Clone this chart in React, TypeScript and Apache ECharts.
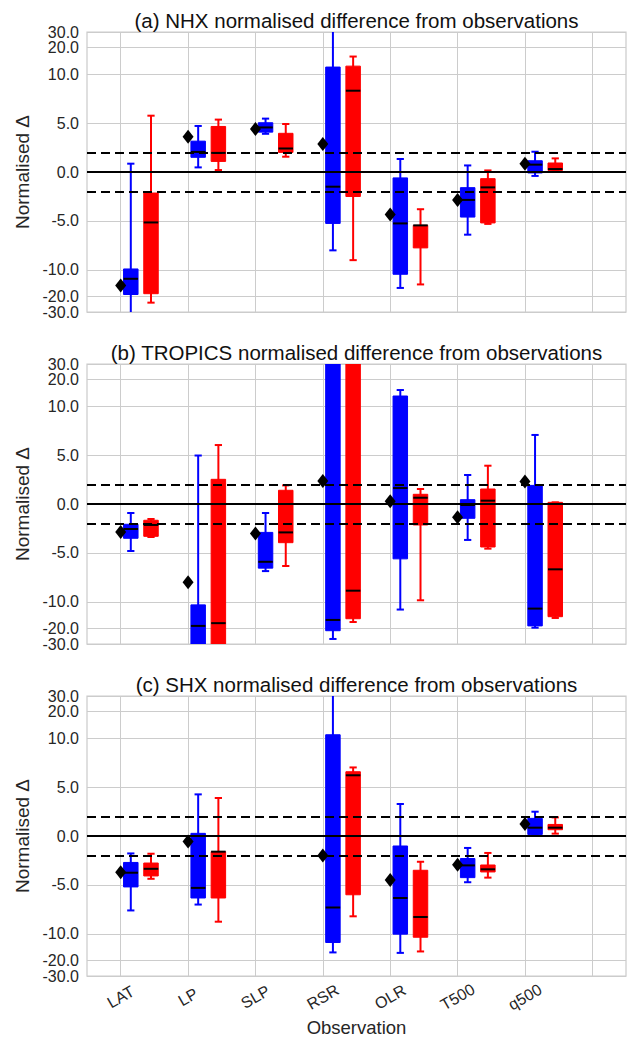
import React, { useEffect, useRef } from 'react';
import * as echarts from 'echarts';

const CATEGORIES = ['LAT', 'LP', 'SLP', 'RSR', 'OLR', 'T500', 'q500'];
const X_GRID = [0, 1, 2, 3, 4, 5, 6, 7];
const Y_TICKS = [-30, -20, -10, -5, 0, 5, 10, 20, 30];
const REF_LINES = [0, 2, -2];

// each box: [min, q1, median, q3, max]
const NHX_OBS = [-15, 3.6, 4.4, 2.85, -4.35, -2.85, 0.85];
const NHX_BLUE = [
  [-35, -19, -12.6, -9.9, 0.85],
  [0.47, 1.5, 2.05, 3.15, 4.7],
  [3.9, 4.07, 4.55, 5.03, 5.45],
  [-8.0, -5.25, -1.5, 12.0, 35],
  [-16, -11.2, -5.25, -0.6, 1.33],
  [-6.4, -4.6, -2.85, -1.6, 0.67],
  [-0.4, -0.1, 0.75, 1.15, 2.07],
];
const NHX_RED = [
  [-23.5, -18.6, -5.15, -2.15, 5.75],
  [0.2, 1.08, 1.95, 4.65, 5.35],
  [1.56, 2.0, 2.4, 3.95, 4.9],
  [-9.0, -2.5, 8.3, 12.3, 15.8],
  [-14.6, -7.75, -5.45, -5.45, -3.8],
  [-5.3, -5.2, -1.57, -0.68, 0.16],
  [0.16, 0.16, 0.3, 0.92, 1.39],
];

const TROP_OBS = [-2.85, -8.0, -3.0, 2.35, 0.27, -1.35, 2.3];
const TROP_BLUE = [
  [-4.8, -3.5, -2.55, -2.07, -0.92],
  [-40, -35, -18.7, -10.8, 4.95],
  [-6.85, -6.55, -5.9, -2.9, -0.92],
  [-26.3, -21.2, -16, 40, 50],
  [-12.2, -5.6, 1.63, 13, 15.2],
  [-3.67, -1.46, -0.1, 0.44, 2.96],
  [-19.6, -18.7, -11.9, 1.9, 7.05],
];
const TROP_RED = [
  [-3.37, -3.3, -2.14, -1.66, -1.53],
  [-40, -35, -17.4, 2.52, 6.02],
  [-6.33, -3.95, -2.9, 1.4, 1.9],
  [-16.9, -15.5, -8.85, 40, 50],
  [-9.83, -2.14, 0.64, 0.99, 1.53],
  [-4.56, -4.39, 0.34, 1.53, 3.91],
  [-15.2, -14.7, -6.67, 0.17, 0.17],
];

const SHX_OBS = [-3.7, -0.55, null, -2.0, -4.5, -2.93, 1.22];
const SHX_BLUE = [
  [-7.6, -5.2, -3.75, -2.7, -1.78],
  [-7.0, -6.33, -5.3, 0.27, 4.25],
  null,
  [-16.2, -12.5, -7.3, 10.9, 35],
  [-16.4, -10.05, -6.33, -1.02, 3.27],
  [-4.72, -4.25, -3.0, -2.3, -1.22],
  [0.1, 0.16, 0.85, 1.8, 2.48],
];
const SHX_RED = [
  [-4.37, -4.08, -3.35, -2.76, -1.81],
  [-8.75, -6.33, -1.6, -1.6, 3.88],
  null,
  [-8.2, -6.0, 6.2, 6.56, 7.0],
  [-15.8, -10.9, -8.27, -3.5, -2.63],
  [-4.25, -3.67, -3.4, -2.96, -1.73],
  [0.24, 0.64, 0.85, 1.18, 1.9],
];

const PANELS = [
  { title: '(a) NHX normalised difference from observations', obs: NHX_OBS, blue: NHX_BLUE, red: NHX_RED },
  { title: '(b) TROPICS normalised difference from observations', obs: TROP_OBS, blue: TROP_BLUE, red: TROP_RED },
  { title: '(c) SHX normalised difference from observations', obs: SHX_OBS, blue: SHX_BLUE, red: SHX_RED },
];

// symlog transform (linthresh 10, base 10, linscale 1) like matplotlib
const LINTHRESH = 10;
const LINSCALE_ADJ = 1 / (1 - 1 / 10);
function fwd(v: number): number {
  const a = Math.abs(v);
  const s = v < 0 ? -1 : 1;
  if (a <= LINTHRESH) return (v / LINTHRESH) * LINSCALE_ADJ;
  return s * (LINSCALE_ADJ + Math.log10(a / LINTHRESH));
}
function inv(t: number): number {
  const a = Math.abs(t);
  const s = t < 0 ? -1 : 1;
  if (a <= LINSCALE_ADJ) return (t / LINSCALE_ADJ) * LINTHRESH;
  return s * LINTHRESH * Math.pow(10, a - LINSCALE_ADJ);
}

const FONT = "'Liberation Sans', Arial, sans-serif";
const TEXT = '#262626';
const GRID_COLOR = '#cccccc';
const TOPS = [32, 364, 696];
const GRID_LEFT = 87;
const GRID_W = 539;
const GRID_H = 280;
const BOX_W = 0.215;
const BLUE_OFF = 0.15;
const RED_OFF = 0.45;

function boxRender(color: string) {
  return (params: any, api: any) => {
    const x = api.value(0);
    const lo = api.coord([x, api.value(1)]);
    const q1 = api.coord([x, api.value(2)]);
    const md = api.coord([x, api.value(3)]);
    const q3 = api.coord([x, api.value(4)]);
    const hi = api.coord([x, api.value(5)]);
    const w = api.size([BOX_W, 0])[0];
    const cx = lo[0];
    const ls = { stroke: color, lineWidth: 2 };
    return {
      type: 'group',
      children: [
        { type: 'line', shape: { x1: cx, y1: lo[1], x2: cx, y2: hi[1] }, style: ls },
        { type: 'line', shape: { x1: cx - w / 4, y1: lo[1], x2: cx + w / 4, y2: lo[1] }, style: ls },
        { type: 'line', shape: { x1: cx - w / 4, y1: hi[1], x2: cx + w / 4, y2: hi[1] }, style: ls },
        {
          type: 'rect',
          shape: { x: cx - w / 2, y: q3[1], width: w, height: q1[1] - q3[1] },
          style: { fill: color, stroke: color, lineWidth: 1 },
        },
        { type: 'line', shape: { x1: cx - w / 2, y1: md[1], x2: cx + w / 2, y2: md[1] }, style: { stroke: '#000', lineWidth: 2 } },
      ],
    };
  };
}

function boxData(arr: (number[] | null)[], off: number) {
  const out: number[][] = [];
  arr.forEach((b, i) => {
    if (!b) return;
    out.push([i + off, ...b.map(fwd)]);
  });
  return out;
}

function fmtTick(v: number) {
  const r = inv(v);
  const t = Math.round(r * 10) / 10;
  return (Object.is(t, -0) ? 0 : t).toFixed(1);
}

function buildOption() {
  const yMax = fwd(30);
  const grid: any[] = [];
  const xAxis: any[] = [];
  const yAxis: any[] = [];
  const series: any[] = [];
  const title: any[] = [];
  // labels next to the axis ends are split over two axes so none get hidden
  const mainLabels = Y_TICKS.filter((v) => Math.abs(v) !== 20).map(fwd);
  const auxLabels = Y_TICKS.filter((v) => Math.abs(v) === 20).map(fwd);
  const labelStyle = {
    showMinLabel: true,
    showMaxLabel: true,
    hideOverlap: false,
    formatter: fmtTick,
    margin: 8,
    fontSize: 16,
    color: TEXT,
    fontFamily: FONT,
  };

  PANELS.forEach((p, i) => {
    const last = i === PANELS.length - 1;
    title.push({
      text: p.title,
      left: GRID_LEFT + GRID_W / 2,
      top: TOPS[i] - 22,
      textAlign: 'center',
      padding: 0,
      textStyle: { fontSize: 20.5, fontWeight: 'normal', color: '#111', fontFamily: FONT },
    });
    grid.push({
      left: GRID_LEFT,
      top: TOPS[i],
      width: GRID_W,
      height: GRID_H,
      show: true,
      backgroundColor: '#fff',
      borderColor: GRID_COLOR,
      borderWidth: 1.25,
    });
    xAxis.push({
      type: 'value',
      gridIndex: i,
      min: -0.5,
      max: 7.5,
      axisLine: { show: false },
      axisTick: { show: false, customValues: X_GRID },
      splitLine: { show: true, lineStyle: { color: GRID_COLOR, width: 1 } },
      axisLabel: last
        ? {
            show: true,
            customValues: CATEGORIES.map((_, k) => k),
            formatter: (v: number) => CATEGORIES[Math.round(v)] ?? '',
            rotate: 30,
            align: 'center',
            verticalAlign: 'middle',
            margin: 21,
            fontSize: 16,
            color: TEXT,
            fontFamily: FONT,
          }
        : { show: false },
      name: last ? 'Observation' : '',
      nameLocation: 'middle',
      nameGap: 42,
      nameTextStyle: { fontSize: 18.5, color: TEXT, fontFamily: FONT },
    });
    yAxis.push({
      type: 'value',
      gridIndex: i,
      min: -yMax,
      max: yMax,
      axisLine: { show: false },
      axisTick: { show: false, customValues: Y_TICKS.map(fwd) },
      splitLine: { show: true, lineStyle: { color: GRID_COLOR, width: 1 } },
      axisLabel: { ...labelStyle, customValues: mainLabels },
      name: 'Normalised Δ',
      nameLocation: 'middle',
      nameGap: 52,
      nameTextStyle: { fontSize: 19, color: TEXT, fontFamily: FONT },
    });
    yAxis.push({
      type: 'value',
      gridIndex: i,
      position: 'left',
      offset: 0,
      min: -yMax,
      max: yMax,
      axisLine: { show: false },
      axisTick: { show: false, customValues: auxLabels },
      splitLine: { show: false },
      axisLabel: { ...labelStyle, customValues: auxLabels },
    });

    const yIdx = i * 2;
    series.push({
      type: 'custom',
      xAxisIndex: i,
      yAxisIndex: yIdx,
      clip: true,
      z: 2,
      renderItem: boxRender('#0000ff'),
      encode: { x: 0, y: [1, 2, 3, 4, 5] },
      data: boxData(p.blue, BLUE_OFF),
    });
    series.push({
      type: 'custom',
      xAxisIndex: i,
      yAxisIndex: yIdx,
      clip: true,
      z: 2,
      renderItem: boxRender('#ff0000'),
      encode: { x: 0, y: [1, 2, 3, 4, 5] },
      data: boxData(p.red, RED_OFF),
    });
    const obsData: number[][] = [];
    p.obs.forEach((v, k) => {
      if (v == null) return;
      obsData.push([k, fwd(v)]);
    });
    series.push({
      type: 'scatter',
      xAxisIndex: i,
      yAxisIndex: yIdx,
      z: 4,
      symbol: 'diamond',
      symbolSize: [11, 14],
      itemStyle: { color: '#000', opacity: 1 },
      emphasis: { disabled: true },
      data: obsData,
      markLine: {
        silent: true,
        symbol: ['none', 'none'],
        label: { show: false },
        data: REF_LINES.map((v) => ({
          yAxis: fwd(v),
          lineStyle: { color: '#000', width: 2, type: v === 0 ? 'solid' : [9, 5], opacity: 1 },
        })),
      },
    });
  });

  return {
    animation: false,
    backgroundColor: '#fff',
    textStyle: { fontFamily: FONT },
    title,
    grid,
    xAxis,
    yAxis,
    series,
  };
}

export default function App() {
  const ref = useRef<HTMLDivElement>(null);
  useEffect(() => {
    const chart = echarts.init(ref.current as HTMLDivElement, null, { renderer: 'svg' });
    chart.setOption(buildOption() as any);
    return () => chart.dispose();
  }, []);
  return (
    <div
      ref={ref}
      style={{ position: 'fixed', left: 0, top: 0, width: 632, height: 1042, background: '#fff' }}
    />
  );
}
